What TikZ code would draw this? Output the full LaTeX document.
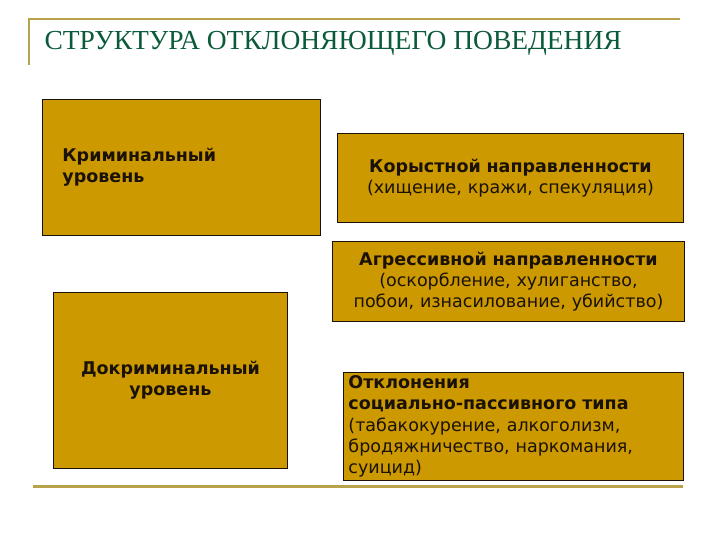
\documentclass[tikz,border=0pt]{standalone}
\usepackage{fontspec}
\setmainfont{DejaVu Sans}
\newfontfamily\titlefont{Liberation Serif}
\usepackage{xcolor}
\usepackage{tikz}
\usetikzlibrary{positioning}
\definecolor{gold}{HTML}{CC9900}
\definecolor{rule}{HTML}{B8A24A}
\definecolor{ttl}{HTML}{0B5A3A}
\definecolor{ink}{HTML}{1A1208}
\tikzset{
  rline/.style={draw=rule, line width=2pt},
  box/.style={draw=ink, fill=gold, line width=0.9pt, inner sep=0pt, anchor=north west},
  btxt/.style={text=ink, font=\fontsize{17.5}{21.3}\selectfont},
  ttxt/.style={text=ttl, font=\titlefont\fontsize{27.5}{30}\selectfont, anchor=west}
}
\begin{document}
\begin{tikzpicture}[x=1pt, y=-1pt]
  \useasboundingbox[fill=white] (0,0) rectangle (720,540);

  % title frame
  \coordinate (tl) at (29,19);
  \coordinate (tr) at (680,19);
  \coordinate (tb) at (29,65);
  \draw[rline] (tb) -- (tl) -- (tr);
  \node[ttxt] (title) at (41,43) {СТРУКТУРА ОТКЛОНЯЮЩЕГО ПОВЕДЕНИЯ};

  % levels
  \node[box, minimum width=278pt, minimum height=136pt, text width=238pt,
        align=left, btxt, inner xsep=20pt] (crim) at (42,99)
        {\textbf{Криминальный}\\\textbf{уровень}};
  \node[box, minimum width=234pt, minimum height=176pt, text width=234pt,
        align=center, btxt] (precrim) at (53,292)
        {\textbf{Докриминальный}\\\textbf{уровень}};

  % kinds
  \node[box, minimum width=346pt, minimum height=89pt, text width=346pt,
        align=center, btxt] (greed) at (337,133)
        {\textbf{Корыстной направленности}\\(хищение, кражи, спекуляция)};
  \node[box, minimum width=352pt, minimum height=80pt, text width=352pt,
        align=center, btxt] (aggr) at (332,241)
        {\textbf{Агрессивной направленности}\\(оскорбление, хулиганство,\\побои, изнасилование, убийство)};
  \node[box, minimum width=340pt, minimum height=108pt, text width=330pt,
        align=left, btxt, inner xsep=5pt] (pass) at (343,372)
        {\textbf{Отклонения}\\\textbf{социально-пассивного типа}\\(табакокурение, алкоголизм,\\бродяжничество, наркомания,\\суицид)};

  % bottom rule
  \coordinate (bl) at (33,486);
  \coordinate (br) at (683,486);
  \draw[rline, line width=3pt] (bl) -- (br);
\end{tikzpicture}
\end{document}
